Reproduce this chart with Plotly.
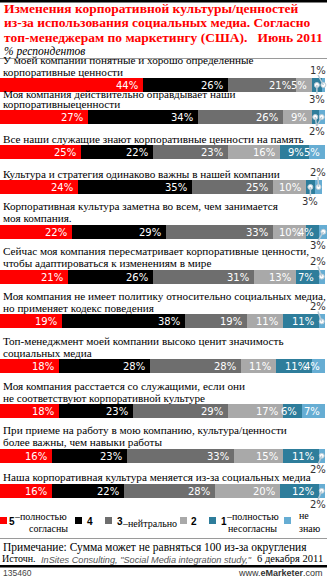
import plotly.graph_objects as go

W, H = 327, 578

# ---- data -------------------------------------------------------------
statements = [
    "У моей компании понятные и хорошо определенные<br>корпоративные ценности",
    "Моя компания действительно оправдывает наши<br>корпоративныеценности",
    "Все наши служащие знают корпоративные ценности на память",
    "Культура и стратегия одинаково важны в нашей компании",
    "Корпоративная культура заметна во всем, чем занимается<br>моя компания.",
    "Сейчас моя компания пересматривает корпоративные ценности,<br>чтобы адаптироваться к изменениям в мире",
    "Моя компания не имеет политику относительно социальных медиа,<br>но применяет кодекс поведения",
    "Топ-менеджмент моей компании высоко ценит значимость<br>социальных медиа",
    "Моя компания расстается со служащими, если они<br>не соответствуют корпоративной культуре",
    "При приеме на работу в мою компанию, культура/ценности<br>более важны, чем навыки работы",
    "Наша корпоративная культура меняется из-за социальных медиа",
]
fully_agree = [44, 27, 25, 24, 22, 21, 19, 18, 18, 16, 16]
agree = [26, 34, 22, 35, 29, 26, 38, 28, 23, 23, 22]
neutral = [21, 26, 23, 25, 33, 31, 19, 28, 29, 33, 28]
disagree = [5, 9, 16, 10, 10, 13, 11, 11, 17, 15, 20]
fully_disagree = [3, 2, 9, 3, 4, 7, 11, 11, 6, 11, 12]
dont_know = [1, 2, 5, 2, 3, 2, 2, 4, 7, 2, 2]

series_names = ["5 – полностью согласны", "4", "3 – нейтрально", "2",
                "1 – полностью несогласны", "не знаю"]

title_lines = [
    "Изменения корпоративной культуры/ценностей",
    "из-за использования социальных медиа. Согласно",
    "топ-менеджерам по маркетингу (США).   Июнь 2011",
]
subtitle = "% респондентов"
note = "Примечание: Сумма может не равняться 100 из-за округления"
source_prefix = "Источн."
source_name = "InSites Consulting, \"Social Media integration study,\""
source_date = "6 декабря 2011"
chart_id = "135460"
site = "www.<b>eMarketer</b>.com"

# ---- style ------------------------------------------------------------
colors = ["#ff0000", "#000000", "#6e6e6e", "#a9a9a9", "#2e7d9b", "#66add3"]
RED = "#ff0000"
SERIF = "Liberation Serif, Times New Roman, serif"
SANS_B = "DejaVu Sans, Verdana, sans-serif"
SANS = "Liberation Sans, Arial, sans-serif"
BAR_H = 14
XMAX = 100 * W / 325.0          # 100 % spans 325 px of the 327 px page

series = [fully_agree, agree, neutral, disagree, fully_disagree, dont_know]

# vertical layout: rows with two-line captions need more room;
# the second row's caption is set tighter than the rest
TIGHT_ROWS = {1}
n_lines = [s.count("<br>") + 1 for s in statements]
centers = [85.0]
for k in range(1, len(statements)):
    step = 35.0 if n_lines[k] == 1 else 44.8
    if k in TIGHT_ROWS:
        step -= 12.8
    centers.append(centers[-1] + step)

# which side tiny segments get their callout on (row, series) -> side
pin_side = {(0, 4): "down", (0, 5): "up",
            (1, 4): "down", (1, 5): "down",
            (3, 4): "down", (3, 5): "up",
            (4, 5): "down", (5, 5): "up", (6, 5): "up",
            (9, 5): "down", (10, 5): "down"}

fig = go.Figure()
for vals, name, col in zip(series, series_names, colors):
    fig.add_trace(go.Bar(
        x=vals, y=centers, orientation="h", width=BAR_H, name=name,
        marker=dict(color=col, line=dict(width=0)),
        hoverinfo="skip", showlegend=False,
    ))

ann = []
shapes = []

def px_x(p):
    return p / W

# captions above each bar
for k, text in enumerate(statements):
    lines = text.split("<br>")
    top = centers[k] - BAR_H / 2
    pitch = 10 if k in TIGHT_ROWS else 12
    for j, line in enumerate(reversed(lines)):
        ann.append(dict(xref="paper", yref="y", x=px_x(1), y=top - 6.5 - pitch * j,
                        text=line, showarrow=False, xanchor="left", yanchor="middle",
                        font=dict(family=SERIF, size=11.2, color="#000")))

# value labels inside the segments and callouts for tiny segments
pins = {}
for k in range(len(statements)):
    cum = 0
    for s, vals in enumerate(series):
        v = vals[k]
        start, cum = cum, cum + v
        if v >= 4:
            ann.append(dict(xref="x", yref="y", x=cum, y=centers[k] + 0.5,
                            text=f"{v}%", showarrow=False, xanchor="right",
                            yanchor="middle", xshift=-3,
                            font=dict(family=SANS_B, size=10, color="white")))
        else:
            side = pin_side.get((k, s), "down")
            pins.setdefault((k, side), []).append((start + v / 2, v))

clamp = 318 / W * XMAX
dot_x, dot_y = [], []
for (k, side), items in pins.items():
    lx = sum(min(c, clamp) for c, _ in items) / len(items)
    if side == "down":
        ly = centers[k] + BAR_H / 2 + 7
        end = ly - 5
    else:
        ly = centers[k] - BAR_H / 2 - 8
        end = ly + 5
    for c, _ in items:
        shapes.append(dict(type="line", xref="x", yref="y", x0=c, y0=centers[k],
                           x1=lx, y1=end, line=dict(color="#b9cbd6", width=1.5)))
        dot_x.append(c)
        dot_y.append(centers[k])
    ann.append(dict(xref="x", yref="y", x=lx, y=ly, text=f"{items[0][1]}%",
                    showarrow=False, xanchor="center", yanchor="middle",
                    font=dict(family=SANS_B, size=10, color="#333")))

fig.add_trace(go.Scatter(x=dot_x, y=dot_y, mode="markers", hoverinfo="skip",
                         showlegend=False,
                         marker=dict(size=5, color="white",
                                     line=dict(color="#b9cbd6", width=1))))

# title block
for j, line in enumerate(title_lines):
    ann.append(dict(xref="paper", yref="y", x=px_x(2), y=8 + 14.7 * j, text=line,
                    showarrow=False, xanchor="left", yanchor="middle",
                    font=dict(family=SERIF, size=13.5, color=RED, weight="bold")))
ann.append(dict(xref="paper", yref="y", x=px_x(2), y=51.5, text=f"<i>{subtitle}</i>",
                showarrow=False, xanchor="left", yanchor="middle",
                font=dict(family=SERIF, size=11.5, color="#000")))

# rules
shapes += [
    dict(type="rect", xref="paper", yref="y", x0=0, x1=1, y0=0, y1=2.5,
         fillcolor="#000", line=dict(width=0)),
    dict(type="line", xref="paper", yref="y", x0=0, x1=1, y0=58.5, y1=58.5,
         line=dict(color="#9a9a9a", width=1)),
    dict(type="line", xref="paper", yref="y", x0=0, x1=1, y0=538.5, y1=538.5,
         line=dict(color="#9a9a9a", width=1)),
    dict(type="rect", xref="paper", yref="y", x0=0, x1=1, y0=565, y1=567.5,
         fillcolor="#000", line=dict(width=0)),
]

# legend
legend_layout = [
    # swatch x, key x, description lines as (x, y)
    (0, 7, [(12, 516), (27, 528)]),
    (75, 85, []),
    (105, 115, [(120, 523)]),
    (180, 189, []),
    (209, 219, [(224, 516), (226, 528)]),
    (284, None, [(297, 515), (297, 528)]),
]
for name, col, (sx, kx, desc_pos) in zip(series_names, colors, legend_layout):
    shapes.append(dict(type="rect", xref="paper", yref="y", x0=px_x(sx),
                       x1=px_x(sx + 7), y0=517, y1=524, fillcolor=col,
                       line=dict(width=0)))
    if " – " in name:
        key, desc = name.split(" – ")
        desc_words = ["–" + desc] if len(desc_pos) == 1 else ["–" + desc.split()[0]] + desc.split()[1:]
    elif kx is not None:
        key, desc_words = name, []
    else:
        key, desc_words = None, name.split()
    if key is not None:
        ann.append(dict(xref="paper", yref="y", x=px_x(kx), y=521, text=f"<b>{key}</b>",
                        showarrow=False, xanchor="left", yanchor="middle",
                        font=dict(family=SANS, size=10, color="#000")))
    for word, (dx, dy) in zip(desc_words, desc_pos):
        ann.append(dict(xref="paper", yref="y", x=px_x(dx), y=dy, text=word,
                        showarrow=False, xanchor="left", yanchor="middle",
                        font=dict(family=SERIF, size=10, color="#000")))

# footnotes
ann += [
    dict(xref="paper", yref="y", x=px_x(1), y=547.5, text=note, showarrow=False,
         xanchor="left", yanchor="middle", font=dict(family=SERIF, size=11.5, color="#000")),
    dict(xref="paper", yref="y", x=px_x(0), y=558.5, text=source_prefix, showarrow=False,
         xanchor="left", yanchor="middle", font=dict(family=SERIF, size=10, color="#000")),
    dict(xref="paper", yref="y", x=px_x(39), y=559.5, text=f"<i>{source_name}</i>",
         showarrow=False, xanchor="left", yanchor="middle",
         font=dict(family=SANS, size=9.2, color="#555")),
    dict(xref="paper", yref="y", x=px_x(325), y=558.5, text=source_date, showarrow=False,
         xanchor="right", yanchor="middle", font=dict(family=SERIF, size=10.5, color="#000")),
    dict(xref="paper", yref="y", x=px_x(1), y=573, text=chart_id, showarrow=False,
         xanchor="left", yanchor="middle", font=dict(family=SANS, size=8.5, color="#444")),
    dict(xref="paper", yref="y", x=px_x(325), y=573, text=site, showarrow=False,
         xanchor="right", yanchor="middle", font=dict(family=SANS, size=9, color="#333")),
]

fig.update_layout(
    width=W, height=H, margin=dict(l=0, r=0, t=0, b=0),
    paper_bgcolor="white", plot_bgcolor="white",
    barmode="stack", bargap=0,
    xaxis=dict(range=[0, XMAX], domain=[0, 1], visible=False, fixedrange=True),
    yaxis=dict(range=[H, 0], domain=[0, 1], visible=False, fixedrange=True),
    annotations=ann, shapes=shapes,
)

fig.write_html("out.html", config={"displayModeBar": False})
